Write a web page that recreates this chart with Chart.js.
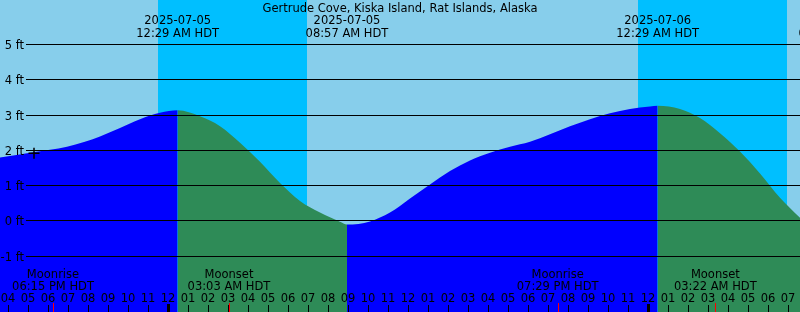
<!DOCTYPE html>
<html lang="en">
<head>
  <meta charset="UTF-8">
  <title>Gertrude Cove Tides</title>
  <style>
    * {
      margin: 0;
      padding: 0;
      box-sizing: border-box;
    }

    body {
      width: 800px;
      height: 312px;
      overflow: hidden;
      background: #87ceeb;
    }

    canvas {
      display: block;
    }
  </style>
  <script src="https://cdn.jsdelivr.net/npm/chart.js"></script>
</head>
<body>
  <canvas id="tideChart" width="800" height="312"></canvas>

  <script>
    const stationName = 'Gertrude Cove, Kiska Island, Rat Islands, Alaska';

    // hours after midnight 2025-07-05 (HDT) and tide height in ft
    const tideHours = [-8.4, -6.75, -5.05, -4.2, -3.4, -2.4, -1.4, -0.4, 0.483,
      1.6, 2.6, 3.6, 4.6, 5.6, 6.6, 7.6, 8.6, 8.95,
      10.1, 11.1, 12.1, 13.1, 14.1, 15.1, 16.1, 17.1, 18.1, 19.1, 20.1, 21.1, 22.1, 23.1, 24.1, 24.483,
      25.6, 26.6, 27.6, 28.6, 29.6, 30.6, 31.6];
    const tideFeet = [1.78, 1.93, 2.09, 2.22, 2.38, 2.62, 2.87, 3.05, 3.12,
      2.95, 2.67, 2.2, 1.66, 1.06, 0.55, 0.22, -0.04, -0.12,
      -0.03, 0.22, 0.62, 1.02, 1.4, 1.7, 1.92, 2.09, 2.23, 2.44, 2.67, 2.87, 3.04, 3.16, 3.23, 3.25,
      3.16, 2.9, 2.47, 1.95, 1.33, 0.64, 0.07];

    // high / low tide labels along the top
    const extremeHours = [0.483, 8.95, 24.483, 33.6];
    const extremeDates = ['2025-07-05', '2025-07-05', '2025-07-06', '2025-07-06'];
    const extremeTimes = ['12:29 AM HDT', '08:57 AM HDT', '12:29 AM HDT', '09:36 AM HDT'];

    // night bands
    const nightStart = [-0.5, 23.5];
    const nightEnd = [6.93, 30.95];

    // moon events
    const moonHours = [-5.75, 3.05, 19.483, 27.367];
    const moonNames = ['Moonrise', 'Moonset', 'Moonrise', 'Moonset'];
    const moonTimes = ['06:15 PM HDT', '03:03 AM HDT', '07:29 PM HDT', '03:22 AM HDT'];

    const footLevels = [-1, 0, 1, 2, 3, 4, 5];

    // "now" marker
    const markHour = -6.7;
    const markFeet = 1.9;

    const hourTicks = [];
    for (let h = -8; h <= 31; h++) hourTicks.push(h);
    const hourLabels = hourTicks.map(h => {
      const hh = (((h % 24) + 24) % 24) % 12 || 12;
      return String(hh).padStart(2, '0');
    });

    const DAY = '#87ceeb';
    const NIGHT = '#00bfff';
    const RISING = '#0000ff';
    const FALLING = '#2e8b57';
    const FONT = '11.5px "DejaVu Sans", sans-serif';

    const tideDecor = {
      id: 'tideDecor',
      beforeDatasetsDraw(chart) {
        const { ctx, chartArea: a, scales: { x } } = chart;
        ctx.save();
        ctx.fillStyle = DAY;
        ctx.fillRect(a.left, a.top, a.width, a.height);
        ctx.fillStyle = NIGHT;
        nightStart.forEach((s, i) => {
          const x0 = Math.round(x.getPixelForValue(s));
          const x1 = Math.round(x.getPixelForValue(nightEnd[i]));
          ctx.fillRect(x0, a.top, x1 - x0, a.height);
        });
        ctx.restore();
      },
      afterDatasetsDraw(chart) {
        const { ctx, chartArea: a, scales: { x, y } } = chart;
        ctx.save();

        // horizontal foot lines + labels
        ctx.strokeStyle = '#000';
        ctx.lineWidth = 1;
        ctx.fillStyle = '#000';
        ctx.font = FONT;
        ctx.textAlign = 'right';
        ctx.textBaseline = 'alphabetic';
        footLevels.forEach(v => {
          const py = Math.round(y.getPixelForValue(v)) + 0.5;
          ctx.beginPath();
          ctx.moveTo(26, py);
          ctx.lineTo(a.right, py);
          ctx.stroke();
          ctx.fillText(v + ' ft', 24, py + 4.5);
        });

        // title + tide extremes
        ctx.textAlign = 'center';
        ctx.fillText(stationName, 400, 12);
        extremeHours.forEach((h, i) => {
          const px = x.getPixelForValue(h);
          ctx.fillText(extremeDates[i], px, 24);
          ctx.fillText(extremeTimes[i], px, 36.5);
        });

        // moon events
        moonHours.forEach((h, i) => {
          const px = x.getPixelForValue(h);
          ctx.fillText(moonNames[i], px, 278);
          ctx.fillText(moonTimes[i], px, 290);
          ctx.fillStyle = '#ff0000';
          ctx.fillRect(Math.round(px), 303, 1, a.bottom - 303);
          ctx.fillStyle = '#000';
        });

        // hour ticks
        hourTicks.forEach((h, i) => {
          const px = Math.round(x.getPixelForValue(h));
          ctx.fillText(hourLabels[i], px, 302);
          if (h % 24 === 0) {
            ctx.fillRect(px - 1, 304, 3, a.bottom - 304);
          } else {
            ctx.fillRect(px, 305, 1, a.bottom - 305);
          }
        });

        ctx.restore();
      }
    };

    const ctx = document.getElementById('tideChart').getContext('2d');
    new Chart(ctx, {
      type: 'line',
      data: {
        datasets: [
          {
            data: tideHours.map((h, i) => ({ x: h, y: tideFeet[i] })),
            fill: 'start',
            backgroundColor: FALLING,
            borderColor: 'rgba(0,0,0,0)',
            borderWidth: 0,
            pointRadius: 0,
            cubicInterpolationMode: 'monotone',
            segment: {
              backgroundColor: c => c.p1.parsed.y > c.p0.parsed.y ? RISING : FALLING
            },
            order: 2
          },
          {
            data: [{ x: markHour, y: markFeet }],
            showLine: false,
            pointStyle: 'cross',
            pointRadius: 5.5,
            borderColor: '#000',
            borderWidth: 1.5,
            order: 1
          }
        ]
      },
      options: {
        responsive: false,
        animation: false,
        layout: { padding: 0, autoPadding: false },
        plugins: {
          legend: { display: false },
          tooltip: { enabled: false }
        },
        scales: {
          x: { type: 'linear', min: -8.4, max: 31.6, display: false },
          y: { min: -2.6, max: 6.25, display: false }
        }
      },
      plugins: [tideDecor]
    });
  </script>
</body>
</html>
